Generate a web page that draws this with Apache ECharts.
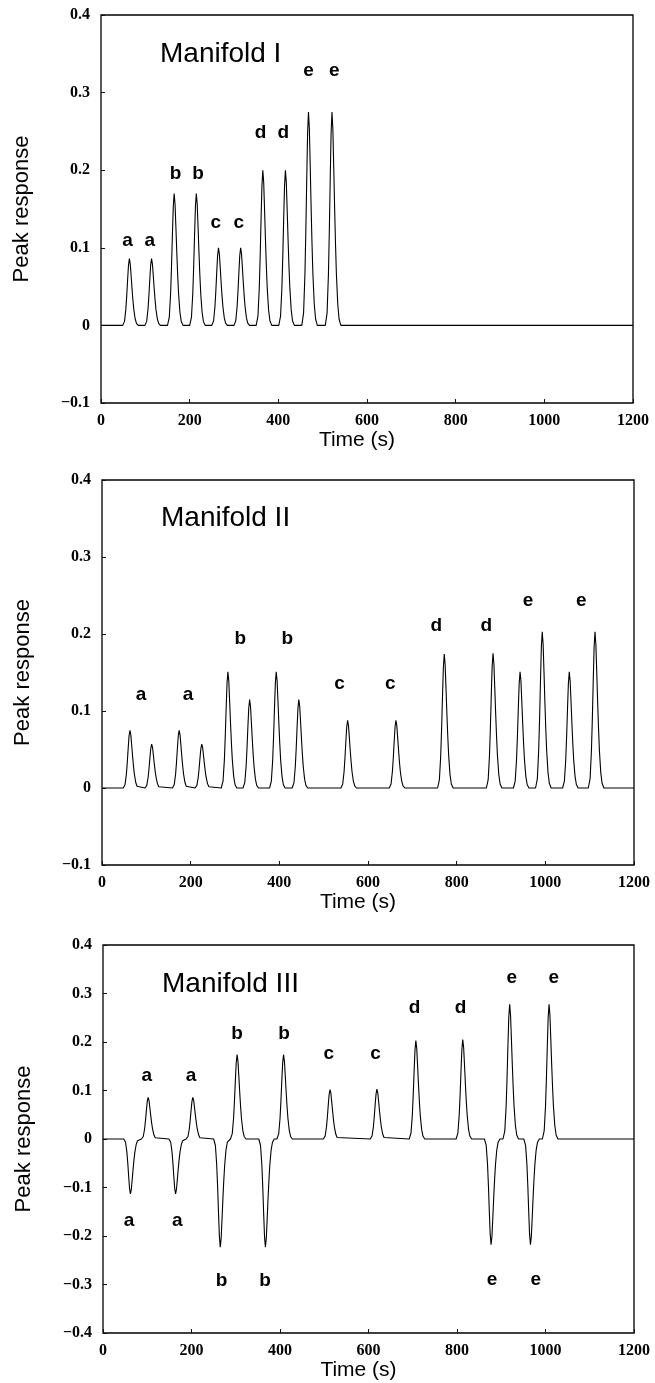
<!DOCTYPE html>
<html>
<head>
  <meta charset="utf-8">
  <title>Manifold peak responses</title>
  <script src="https://cdn.jsdelivr.net/npm/echarts@6/dist/echarts.min.js"></script>
</head>
<body style="margin:0;background:#fff">
<div id="main" style="width:655px;height:1383px;"></div>

<script type="text/javascript">
  var shapeDt = [-15, -11, -8, -6, -4, -2, 0, 2, 4, 6, 8, 10, 13, 16, 20];
  var shapeFrac = [0, 0.06, 0.24, 0.44, 0.68, 0.9, 1, 0.92, 0.74, 0.55, 0.38, 0.24, 0.1, 0.03, 0];

  // Manifold I
  var m1PeakTimes = [64, 114, 165, 215, 265, 315, 365, 416, 468, 521];
  var m1PeakHeights = [0.086, 0.086, 0.17, 0.17, 0.1, 0.1, 0.2, 0.2, 0.275, 0.275];
  var m1LabelText = ['a', 'a', 'b', 'b', 'c', 'c', 'd', 'd', 'e', 'e'];
  var m1LabelTimes = [60, 110, 168, 219, 259, 311, 360, 411, 468, 526];
  var m1LabelValues = [0.109, 0.109, 0.196, 0.196, 0.132, 0.132, 0.248, 0.248, 0.328, 0.328];

  // Manifold II
  var m2PeakTimes = [63, 112, 174, 225, 284, 333, 393, 444, 554, 663, 772, 882, 943, 993, 1054, 1112];
  var m2PeakHeights = [0.075, 0.057, 0.075, 0.057, 0.151, 0.115, 0.151, 0.115, 0.088, 0.088, 0.174, 0.175, 0.151, 0.203, 0.151, 0.203];
  var m2LabelText = ['a', 'a', 'b', 'b', 'c', 'c', 'd', 'd', 'e', 'e'];
  var m2LabelTimes = [88, 194, 312, 418, 536, 650, 754, 867, 961, 1081];
  var m2LabelValues = [0.121, 0.121, 0.194, 0.194, 0.136, 0.136, 0.211, 0.211, 0.243, 0.243];

  // Manifold III
  var m3PeakTimes = [62, 102, 164, 203, 265, 303, 367, 408, 513, 619, 707, 813, 877, 919, 966, 1008];
  var m3PeakHeights = [-0.113, 0.086, -0.113, 0.086, -0.223, 0.174, -0.223, 0.174, 0.102, 0.103, 0.203, 0.205, -0.218, 0.278, -0.218, 0.278];
  var m3LabelText = ['a', 'a', 'a', 'a', 'b', 'b', 'b', 'b', 'c', 'c', 'd', 'd', 'e', 'e', 'e', 'e'];
  var m3LabelTimes = [59, 99, 168, 199, 268, 303, 366, 409, 510, 616, 704, 808, 879, 924, 978, 1019];
  var m3LabelValues = [-0.168, 0.13, -0.168, 0.13, -0.292, 0.216, -0.292, 0.216, 0.175, 0.175, 0.271, 0.271, -0.29, 0.333, -0.29, 0.333];

  var titles = ['Manifold I', 'Manifold II', 'Manifold III'];

  function buildTrace(times, heights) {
    var pts = [[0, 0]];
    for (var i = 0; i < times.length; i++) {
      var lo = i > 0 ? (times[i - 1] + times[i]) / 2 : -Infinity;
      var hi = i < times.length - 1 ? (times[i] + times[i + 1]) / 2 : Infinity;
      for (var j = 0; j < shapeDt.length; j++) {
        var t = times[i] + shapeDt[j];
        if (t > lo && t < hi) pts.push([t, heights[i] * shapeFrac[j]]);
      }
    }
    pts.push([1200, 0]);
    return pts;
  }

  function buildLabels(times, values, text) {
    var out = [];
    for (var i = 0; i < times.length; i++) out.push([times[i], values[i], text[i]]);
    return out;
  }

  var grids = [
    {left: 101, top: 15, width: 532, height: 388},
    {left: 102, top: 480, width: 532, height: 385},
    {left: 103, top: 945, width: 531, height: 388}
  ];
  var yRanges = [[-0.1, 0.4], [-0.1, 0.4], [-0.4, 0.4]];
  var titleTops = [40, 504, 970];
  var traces = [
    buildTrace(m1PeakTimes, m1PeakHeights),
    buildTrace(m2PeakTimes, m2PeakHeights),
    buildTrace(m3PeakTimes, m3PeakHeights)
  ];
  var labels = [
    buildLabels(m1LabelTimes, m1LabelValues, m1LabelText),
    buildLabels(m2LabelTimes, m2LabelValues, m2LabelText),
    buildLabels(m3LabelTimes, m3LabelValues, m3LabelText)
  ];

  var tickFont = {color: '#000', fontFamily: 'Liberation Serif', fontWeight: 'bold', fontSize: 16};
  var sansName = {color: '#000', fontFamily: 'Liberation Sans', fontSize: 21};

  var option = {
    animation: false,
    backgroundColor: '#fff',
    title: [],
    grid: [],
    xAxis: [],
    yAxis: [],
    series: []
  };

  for (var k = 0; k < 3; k++) {
    option.title.push({
      text: titles[k],
      left: grids[k].left + 59,
      top: titleTops[k],
      padding: 0,
      textStyle: {color: '#000', fontFamily: 'Liberation Sans', fontWeight: 'normal', fontSize: 28}
    });
    option.grid.push({
      left: grids[k].left, top: grids[k].top, width: grids[k].width, height: grids[k].height,
      containLabel: false, outerBoundsMode: 'none',
      show: true, borderColor: '#000', borderWidth: 1.3
    });
    option.xAxis.push({
      type: 'value', gridIndex: k, min: 0, max: 1200, interval: 200,
      name: 'Time (s)', nameLocation: 'middle', nameGap: 24,
      nameTextStyle: Object.assign({padding: [0, 20, 0, 0]}, sansName),
      axisLine: {show: false, onZero: false},
      axisTick: {show: true, inside: true, length: 4, lineStyle: {color: '#111'}},
      axisLabel: Object.assign({
        margin: 10,
        formatter: function (v) { return String(v); }
      }, tickFont),
      splitLine: {show: false}
    });
    option.yAxis.push({
      type: 'value', gridIndex: k, min: yRanges[k][0], max: yRanges[k][1], interval: 0.1,
      name: 'Peak response', nameLocation: 'middle', nameGap: 68,
      nameTextStyle: Object.assign({}, sansName, {fontSize: 22}),
      axisLine: {show: false},
      axisTick: {show: true, inside: true, length: 4, lineStyle: {color: '#111'}},
      axisLabel: Object.assign({
        margin: 11,
        formatter: function (v) {
          if (Math.abs(v) < 1e-9) return '0';
          return v.toFixed(1).replace('-', '\u2212');
        }
      }, tickFont),
      splitLine: {show: false}
    });
    option.series.push({
      type: 'line', xAxisIndex: k, yAxisIndex: k,
      data: traces[k], showSymbol: false, symbol: 'none',
      lineStyle: {color: '#000', width: 1.1}
    });
    option.series.push({
      type: 'scatter', xAxisIndex: k, yAxisIndex: k,
      data: labels[k], symbolSize: 1,
      itemStyle: {color: 'rgba(0,0,0,0)', opacity: 1},
      label: {
        show: true, position: 'inside',
        formatter: function (p) { return p.value[2]; },
        color: '#000', fontFamily: 'Liberation Sans', fontWeight: 'bold', fontSize: 19,
        textBorderWidth: 0
      }
    });
  }

  var chart = echarts.init(document.getElementById('main'));
  chart.setOption(option);
</script>
</body>
</html>
